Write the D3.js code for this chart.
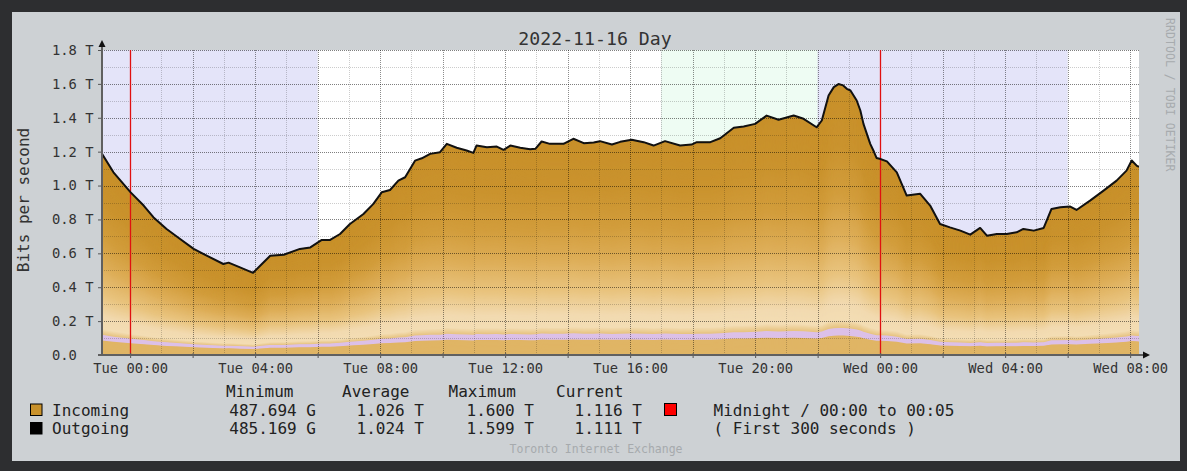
<!DOCTYPE html>
<html><head><meta charset="utf-8">
<script src="https://cdn.jsdelivr.net/npm/d3@7"></script>
<style>
html,body{margin:0;padding:0;background:#2d2e30;}
svg{display:block;}
text{font-family:"DejaVu Sans Mono",monospace;}
</style></head><body>
<svg id="chart" width="1187" height="471"></svg>
<script>
// ---------------- data ----------------
const title = "2022-11-16 Day";
const yAxisTitle = "Bits per second";
const sideNote = "RRDTOOL / TOBI OETIKER";
const footer = "Toronto Internet Exchange";
const timeDomain = ["2022-11-14 23:06", "2022-11-16 08:17"];
const times = [
"2022-11-14 23:06","2022-11-14 23:28","2022-11-15 00:01","2022-11-15 00:26","2022-11-15 00:45","2022-11-15 01:10","2022-11-15 01:36","2022-11-15 02:02","2022-11-15 02:27","2022-11-15 02:59",
"2022-11-15 03:09","2022-11-15 03:31","2022-11-15 03:56","2022-11-15 04:13","2022-11-15 04:29","2022-11-15 04:55","2022-11-15 05:26","2022-11-15 05:46","2022-11-15 06:08","2022-11-15 06:24",
"2022-11-15 06:43","2022-11-15 07:02","2022-11-15 07:28","2022-11-15 07:47","2022-11-15 08:03","2022-11-15 08:19","2022-11-15 08:35","2022-11-15 08:48","2022-11-15 09:07","2022-11-15 09:20",
"2022-11-15 09:36","2022-11-15 09:55","2022-11-15 10:08","2022-11-15 10:27","2022-11-15 10:46","2022-11-15 10:59","2022-11-15 11:05","2022-11-15 11:25","2022-11-15 11:44","2022-11-15 11:57",
"2022-11-15 12:10","2022-11-15 12:29","2022-11-15 12:48","2022-11-15 12:58","2022-11-15 13:10","2022-11-15 13:26","2022-11-15 13:52","2022-11-15 14:11","2022-11-15 14:31","2022-11-15 14:50",
"2022-11-15 15:02","2022-11-15 15:25","2022-11-15 15:41","2022-11-15 16:03","2022-11-15 16:26","2022-11-15 16:45","2022-11-15 17:07","2022-11-15 17:36","2022-11-15 17:58","2022-11-15 18:08",
"2022-11-15 18:34","2022-11-15 18:53","2022-11-15 19:19","2022-11-15 19:38","2022-11-15 20:00","2022-11-15 20:22","2022-11-15 20:45","2022-11-15 21:14","2022-11-15 21:33","2022-11-15 21:58",
"2022-11-15 22:08","2022-11-15 22:21","2022-11-15 22:31","2022-11-15 22:40","2022-11-15 22:49","2022-11-15 22:56","2022-11-15 23:03","2022-11-15 23:15","2022-11-15 23:22","2022-11-15 23:28",
"2022-11-15 23:41","2022-11-15 23:47","2022-11-15 23:53","2022-11-15 23:59",
"2022-11-16 00:13","2022-11-16 00:32","2022-11-16 00:51","2022-11-16 01:17","2022-11-16 01:36","2022-11-16 01:55","2022-11-16 02:14","2022-11-16 02:34","2022-11-16 02:53","2022-11-16 03:12",
"2022-11-16 03:25","2022-11-16 03:44","2022-11-16 04:03","2022-11-16 04:22","2022-11-16 04:35","2022-11-16 04:55","2022-11-16 05:14","2022-11-16 05:29","2022-11-16 05:46","2022-11-16 06:05",
"2022-11-16 06:17","2022-11-16 06:43","2022-11-16 07:09","2022-11-16 07:34","2022-11-16 07:53","2022-11-16 08:03","2022-11-16 08:13","2022-11-16 08:17"];
// Tbit/s
const incoming = [
1.19,1.08,0.962,0.884,0.814,0.746,0.687,0.628,0.588,0.539,
0.547,0.519,0.488,0.539,0.588,0.594,0.628,0.637,0.681,0.681,
0.716,0.775,0.834,0.894,0.962,0.976,1.031,1.051,1.149,1.163,
1.189,1.199,1.248,1.225,1.209,1.195,1.238,1.228,1.232,1.213,
1.238,1.225,1.216,1.219,1.262,1.248,1.248,1.278,1.252,1.256,
1.264,1.244,1.260,1.272,1.258,1.238,1.264,1.238,1.244,1.258,
1.258,1.281,1.343,1.350,1.366,1.415,1.390,1.415,1.396,1.346,
1.386,1.534,1.583,1.600,1.593,1.573,1.563,1.504,1.445,1.366,
1.248,1.209,1.165,1.160,
1.145,1.080,0.943,0.953,0.884,0.775,0.755,0.736,0.712,0.752,
0.706,0.716,0.716,0.726,0.746,0.736,0.752,0.864,0.874,0.878,
0.858,0.913,0.972,1.031,1.090,1.150,1.120,1.116];
const outgoing = [
1.187,1.078,0.960,0.882,0.812,0.744,0.685,0.626,0.586,0.537,
0.545,0.517,0.485,0.537,0.586,0.592,0.626,0.635,0.679,0.679,
0.714,0.773,0.832,0.892,0.960,0.974,1.029,1.049,1.147,1.161,
1.187,1.197,1.246,1.223,1.207,1.193,1.236,1.226,1.230,1.211,
1.236,1.223,1.214,1.217,1.260,1.246,1.246,1.276,1.250,1.254,
1.262,1.242,1.258,1.270,1.256,1.236,1.262,1.236,1.242,1.256,
1.256,1.279,1.341,1.348,1.364,1.413,1.388,1.413,1.394,1.344,
1.384,1.532,1.581,1.599,1.591,1.571,1.561,1.502,1.443,1.364,
1.246,1.207,1.163,1.158,
1.143,1.078,0.941,0.951,0.882,0.773,0.753,0.734,0.710,0.750,
0.704,0.714,0.714,0.724,0.744,0.734,0.750,0.862,0.872,0.876,
0.856,0.911,0.970,1.029,1.088,1.148,1.116,1.111];
const yTicks = [0,0.2,0.4,0.6,0.8,1.0,1.2,1.4,1.6,1.8];
const yMinor = [0.1,0.3,0.5,0.7,0.9,1.1,1.3,1.5,1.7];
const xTickTimes = ["2022-11-15 00:00","2022-11-15 02:00","2022-11-15 04:00","2022-11-15 06:00","2022-11-15 08:00","2022-11-15 10:00","2022-11-15 12:00","2022-11-15 14:00","2022-11-15 16:00","2022-11-15 18:00","2022-11-15 20:00","2022-11-15 22:00","2022-11-16 00:00","2022-11-16 02:00","2022-11-16 04:00","2022-11-16 06:00","2022-11-16 08:00"];
const xLabelTimes = ["2022-11-15 00:00","2022-11-15 04:00","2022-11-15 08:00","2022-11-15 12:00","2022-11-15 16:00","2022-11-15 20:00","2022-11-16 00:00","2022-11-16 04:00","2022-11-16 08:00"];
const shadeStarts = ["2022-11-14 23:06","2022-11-15 06:00","2022-11-15 17:00","2022-11-15 22:00","2022-11-16 06:00"];
const shadeEnds   = ["2022-11-15 06:00","2022-11-15 17:00","2022-11-15 22:00","2022-11-16 06:00","2022-11-16 08:17"];
const shadeKinds  = ["night","day","evening","night","day"];
const midnights = ["2022-11-15 00:00","2022-11-16 00:00"];
const legendHeaders = ["Minimum","Average","Maximum","Current"];
const seriesNames = ["Incoming","Outgoing"];
const incomingStats = ["487.694 G","1.026 T","1.600 T","1.116 T"];
const outgoingStats = ["485.169 G","1.024 T","1.599 T","1.111 T"];
const ruleLegend = ["Midnight / 00:00 to 00:05","( First 300 seconds )"];

// ---------------- drawing ----------------
const svg = d3.select("#chart");
const W = 1187, H = 471;
const L = 102, R = 1139, TOP = 50, BOT = 355;
svg.append("rect").attr("width", W).attr("height", H).attr("fill", "#2d2e30");
svg.append("rect").attr("x", 12).attr("y", 12).attr("width", 1168).attr("height", 449).attr("fill", "#cdd1d4");

const parse = d3.timeParse("%Y-%m-%d %H:%M");
const T = times.map(parse);
const x = d3.scaleTime().domain(timeDomain.map(parse)).range([L, R]);
const y = d3.scaleLinear().domain([0, 1.8]).range([BOT, TOP]);

svg.append("defs").append("clipPath").attr("id", "clip")
  .append("rect").attr("x", L).attr("y", TOP).attr("width", R - L).attr("height", BOT - TOP);
const plot = svg.append("g").attr("clip-path", "url(#clip)");

// background shading
const shadeColor = {night: "#e4e4f9", day: "#ffffff", evening: "#eefcf3"};
plot.selectAll("rect.shade").data(shadeKinds).enter().append("rect")
  .attr("x", (d, i) => x(parse(shadeStarts[i])))
  .attr("width", (d, i) => x(parse(shadeEnds[i])) - x(parse(shadeStarts[i])))
  .attr("y", TOP).attr("height", BOT - TOP)
  .attr("fill", d => shadeColor[d]);

// gradient-shaded incoming area (stack of fractional areas)
const stops = [[0.1, "#e6c27e"], [0.13, "#f3ddb4"], [0.19, "#f2dab0"], [0.3, "#e9c47f"], [0.45, "#ddad57"], [0.6, "#d29d3c"], [0.78, "#ca932e"], [1.0, "#c8902a"]];
function bandColor(f) {
  if (f <= 0.072) return "#e0b565";
  if (f <= 0.1) return "#dcc0e8";
  for (let i = 1; i < stops.length; i++) {
    if (f <= stops[i][0]) {
      const t = (f - stops[i-1][0]) / (stops[i][0] - stops[i-1][0]);
      return d3.interpolateRgb(stops[i-1][1], stops[i][1])(t);
    }
  }
  return stops[stops.length - 1][1];
}
const N = 250;
const bands = d3.range(N, 0, -1).map(k => k / N);
plot.selectAll("path.band").data(bands).enter().append("path")
  .attr("d", f => d3.area().x((d, i) => x(T[i])).y0(BOT).y1(d => y(d * f))(incoming))
  .attr("fill", f => bandColor(f - 0.5 / N));

// grid
const crisp = v => Math.round(v) + 0.5;
const hours = d3.timeHour.every(1).range(x.domain()[0], x.domain()[1]);
plot.selectAll("line.vg").data(hours).enter().append("line")
  .attr("x1", d => crisp(x(d))).attr("x2", d => crisp(x(d)))
  .attr("y1", TOP).attr("y2", BOT)
  .attr("stroke", d => d.getHours() % 2 === 0 ? "rgba(0,0,0,0.45)" : "rgba(0,0,0,0.2)")
  .attr("stroke-dasharray", "1,1").attr("shape-rendering", "crispEdges");
plot.selectAll("line.hgm").data(yMinor).enter().append("line")
  .attr("x1", L).attr("x2", R).attr("y1", d => crisp(y(d))).attr("y2", d => crisp(y(d)))
  .attr("stroke", "rgba(0,0,0,0.2)").attr("stroke-dasharray", "1,1").attr("shape-rendering", "crispEdges");
plot.selectAll("line.hg").data(yTicks.filter(v => v > 0)).enter().append("line")
  .attr("x1", L).attr("x2", R).attr("y1", d => crisp(y(d))).attr("y2", d => crisp(y(d)))
  .attr("stroke", "rgba(0,0,0,0.5)").attr("stroke-dasharray", "1,1").attr("shape-rendering", "crispEdges");

// midnight rules
plot.selectAll("line.rule").data(midnights).enter().append("line")
  .attr("x1", d => crisp(x(parse(d)))).attr("x2", d => crisp(x(parse(d))))
  .attr("y1", TOP).attr("y2", BOT)
  .attr("stroke", "#e01010").attr("stroke-width", 1.3);

// outgoing line
plot.append("path")
  .attr("d", d3.line().x((d, i) => x(T[i])).y(d => y(d))(outgoing))
  .attr("fill", "none").attr("stroke", "#111").attr("stroke-width", 2).attr("stroke-linejoin", "round");

// axes
const fmtLabel = d3.timeFormat("%a %H:%M");
const labelSet = new Set(xLabelTimes);
const xAxis = d3.axisBottom(x).tickValues(xTickTimes.map(parse)).tickSize(4)
  .tickFormat(d => labelSet.has(d3.timeFormat("%Y-%m-%d %H:%M")(d)) ? fmtLabel(d) : "");
const gx = svg.append("g").attr("transform", `translate(0,${BOT})`).call(xAxis);
gx.select(".domain").remove();
gx.selectAll(".tick line").attr("y1", -2).attr("y2", 3).attr("stroke", "#555");
gx.selectAll(".tick text").attr("y", 18).attr("dy", 0)
  .style("font-family", "'DejaVu Sans Mono', monospace").style("font-size", "13.8px").attr("fill", "#333");

const yAxis = d3.axisLeft(y).tickValues(yTicks).tickSize(4)
  .tickFormat(v => v === 0 ? "0.0" : v.toFixed(1) + " T");
const gy = svg.append("g").attr("transform", `translate(${L},0)`).call(yAxis);
gy.select(".domain").remove();
gy.selectAll(".tick line").attr("stroke", "#555");
gy.selectAll(".tick text").attr("x", 52 - L).style("text-anchor", "start")
  .style("font-family", "'DejaVu Sans Mono', monospace").style("font-size", "13.8px").attr("fill", "#333");

svg.append("line").attr("x1", L).attr("x2", L).attr("y1", BOT + 1).attr("y2", 45)
  .attr("stroke", "#606060").attr("stroke-width", 2);
svg.append("line").attr("x1", L - 4).attr("x2", 1144).attr("y1", BOT).attr("y2", BOT)
  .attr("stroke", "#606060").attr("stroke-width", 2);
svg.append("path").attr("d", `M${L},40 L${L-3.5},47 L${L+3.5},47 Z`).attr("fill", "#111");
svg.append("path").attr("d", `M1150,${BOT} L1143,${BOT-3.5} L1143,${BOT+3.5} Z`).attr("fill", "#111");

// titles
svg.append("text").attr("x", 595).attr("y", 45).attr("text-anchor", "middle")
  .style("font-size", "18.2px").attr("fill", "#333").text(title);
svg.append("text").attr("transform", "translate(28.5,200) rotate(-90)").attr("text-anchor", "middle")
  .style("font-size", "16px").attr("fill", "#333").text(yAxisTitle);
svg.append("text").attr("transform", "translate(1166,18) rotate(90)").attr("text-anchor", "start")
  .style("font-size", "11.6px").attr("fill", "#a7abae").text(sideNote);
svg.append("text").attr("x", 596).attr("y", 453).attr("text-anchor", "middle")
  .style("font-size", "11.5px").attr("fill", "#a6aaad").text(footer);

// legend
const hdrX = [226, 342, 448.5, 556];
const valX = [316, 424, 534, 642];
const rowY = [415.5, 434];
svg.selectAll("text.hdr").data(legendHeaders).enter().append("text")
  .attr("x", (d, i) => hdrX[i]).attr("y", 397).style("font-size", "16px").attr("fill", "#222").text(d => d);
const swatchFill = ["#c9922c", "#000000"];
const statRows = [incomingStats, outgoingStats];
seriesNames.forEach((name, r) => {
  svg.append("rect").attr("x", 30.5).attr("y", rowY[r] - 11.5).attr("width", 11.5).attr("height", 11.5)
    .attr("fill", swatchFill[r]).attr("stroke", "#000").attr("stroke-width", 1);
  svg.append("text").attr("x", 52).attr("y", rowY[r]).style("font-size", "16px").attr("fill", "#222").text(name);
  svg.selectAll(null).data(statRows[r]).enter().append("text")
    .attr("x", (d, i) => valX[i]).attr("y", rowY[r]).attr("text-anchor", "end")
    .style("font-size", "16px").attr("fill", "#222").text(d => d);
  svg.append("text").attr("x", 713.5).attr("y", rowY[r]).style("font-size", "16px").attr("fill", "#222")
    .attr("xml:space", "preserve").text(ruleLegend[r]);
});
svg.append("rect").attr("x", 664.5).attr("y", rowY[0] - 12).attr("width", 12).attr("height", 12)
  .attr("fill", "#ff0000").attr("stroke", "#000").attr("stroke-width", 1);
</script>
</body></html>
